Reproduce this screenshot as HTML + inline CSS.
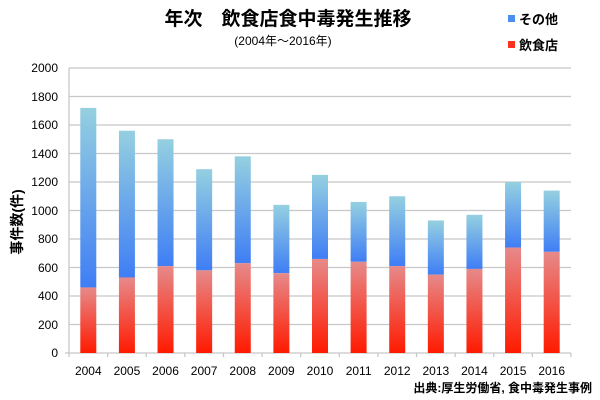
<!DOCTYPE html>
<html><head><meta charset="utf-8"><style>
body{margin:0;background:#fff;}
svg{display:block;font-family:"Liberation Sans","Noto Sans CJK JP",sans-serif;}
</style></head><body>
<svg width="600" height="400" viewBox="0 0 600 400">
<defs>
<linearGradient id="gb" x1="0" y1="0" x2="0" y2="1"><stop offset="0" stop-color="#95d0e0"/><stop offset="1" stop-color="#3f7ef5"/></linearGradient>
<linearGradient id="gr" x1="0" y1="0" x2="0" y2="1"><stop offset="0" stop-color="#e68a8a"/><stop offset="1" stop-color="#ff1a00"/></linearGradient>
</defs>
<text x="288" y="25" font-size="19" font-weight="bold" text-anchor="middle">年次　飲食店食中毒発生推移</text>
<text x="283" y="45" font-size="12" text-anchor="middle">(2004年～2016年)</text>
<rect x="508" y="15" width="7" height="7" fill="#4a8ef0"/>
<text x="519" y="24" font-size="13" font-weight="bold">その他</text>
<rect x="508" y="41" width="7" height="7" fill="#ff3020"/>
<text x="519" y="50" font-size="13" font-weight="bold">飲食店</text>
<g stroke="#c8c8c8" stroke-width="1.3">
<line x1="69" y1="68" x2="571" y2="68"/><line x1="69" y1="96.5" x2="571" y2="96.5"/><line x1="69" y1="125" x2="571" y2="125"/><line x1="69" y1="153.5" x2="571" y2="153.5"/><line x1="69" y1="182" x2="571" y2="182"/><line x1="69" y1="210.5" x2="571" y2="210.5"/><line x1="69" y1="239" x2="571" y2="239"/><line x1="69" y1="267.5" x2="571" y2="267.5"/><line x1="69" y1="296" x2="571" y2="296"/><line x1="69" y1="324.5" x2="571" y2="324.5"/><line x1="65" y1="353" x2="571" y2="353"/>
<line x1="69" y1="68" x2="69" y2="357"/>
</g>
<g font-size="12" text-anchor="end">
<text x="58" y="72">2000</text><text x="58" y="101">1800</text><text x="58" y="129">1600</text><text x="58" y="158">1400</text><text x="58" y="186">1200</text><text x="58" y="215">1000</text><text x="58" y="243">800</text><text x="58" y="272">600</text><text x="58" y="300">400</text><text x="58" y="329">200</text><text x="58" y="357">0</text>
</g>
<text transform="translate(22,222) rotate(-90)" font-size="14" font-weight="bold" text-anchor="middle">事件数(件)</text>
<g id="bars"></g>
<g id="ticks" stroke="#c8c8c8" stroke-width="1.3"></g>
<g id="labels" font-size="12" text-anchor="middle"></g>
<text x="592" y="392" font-size="12" font-weight="bold" text-anchor="end">出典:厚生労働省, 食中毒発生事例</text>
<script>
var d=[[1720,460],[1560,530],[1500,610],[1290,580],[1380,630],[1040,560],[1250,660],[1060,640],[1100,610],[930,550],[970,590],[1200,740],[1140,710]];
var ns="http://www.w3.org/2000/svg",b=document.getElementById("bars"),t=document.getElementById("ticks"),l=document.getElementById("labels");
var w=(571-69)/13,k=0.1425;
function el(p,n,a){var e=document.createElementNS(ns,n);for(var i in a)e.setAttribute(i,a[i]);p.appendChild(e);return e;}
d.forEach(function(v,i){
 var x=69+i*w+11.3;
 el(b,"rect",{x:x,y:353-v[0]*k,width:16,height:(v[0]-v[1])*k,fill:"url(#gb)"});
 el(b,"rect",{x:x,y:353-v[1]*k,width:16,height:v[1]*k,fill:"url(#gr)"});
 el(t,"line",{x1:69+(i+1)*w,y1:353,x2:69+(i+1)*w,y2:357});
 el(l,"text",{x:x+8,y:375}).textContent=2004+i;
});
</script>
</svg>
</body></html>
